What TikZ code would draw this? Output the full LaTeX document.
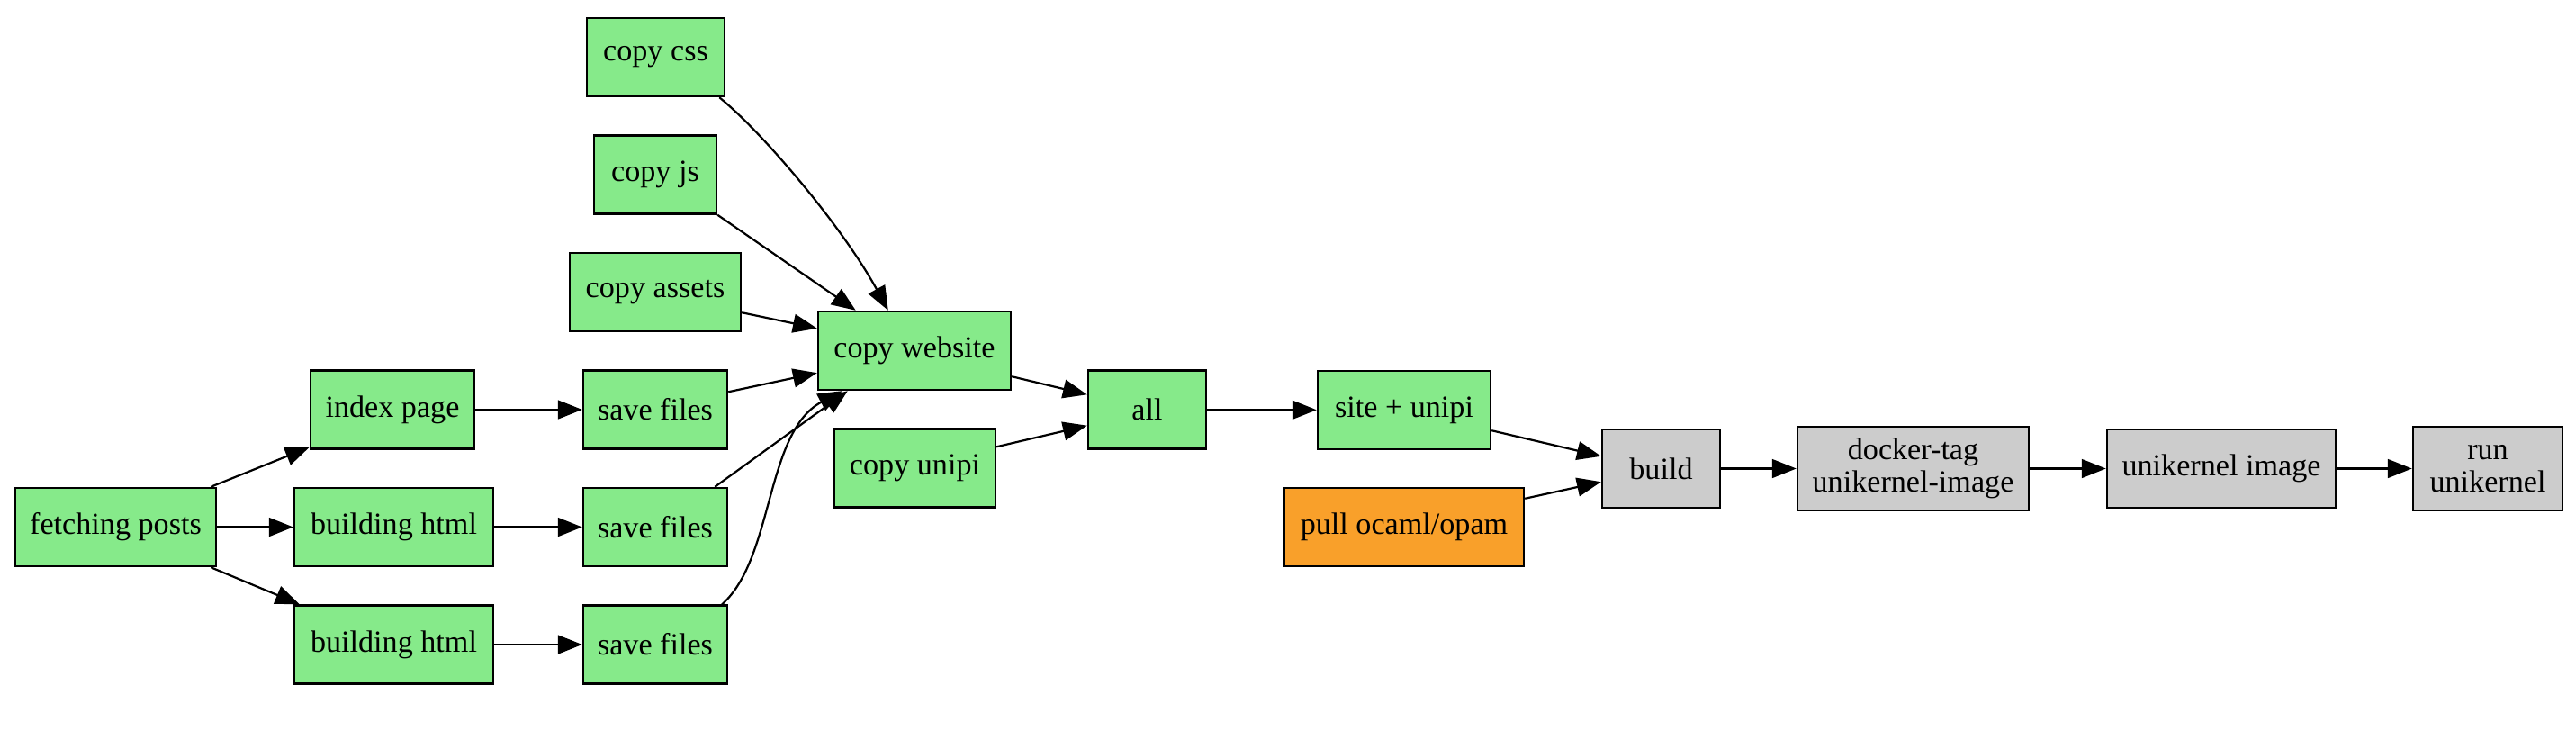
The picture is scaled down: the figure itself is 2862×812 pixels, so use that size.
\documentclass[tikz,border=0pt]{standalone}
\usepackage{fontspec}
\setmainfont{Liberation Serif}
\usetikzlibrary{arrows.meta,calc}
\definecolor{gfill}{HTML}{86EA8A}
\definecolor{ofill}{HTML}{F9A02A}
\definecolor{grfill}{HTML}{CCCCCC}
\begin{document}
\begin{tikzpicture}[x=0.41pt,y=-0.41pt,
  box/.style={draw=black, line width=1pt, rectangle, inner sep=0pt,
    minimum height=87*0.41pt, font=\fontsize{14pt}{14.5pt}\selectfont, align=center},
  bw/.style={minimum width=#1*0.41pt},
  tall/.style={minimum height=93*0.41pt},
  green/.style={fill=gfill}, orange/.style={fill=ofill}, grey/.style={fill=grfill},
  edge/.style={line width=0.9pt, -{Triangle[length=11pt,width=8.5pt]}}]
\useasboundingbox (0,0) rectangle (2862,812);

\node[box,green,bw=223] (fetch) at (128.5,585.5) {fetching posts};
\node[box,green,bw=182] (index) at (436,455) {index page};
\node[box,green,bw=221] (bh1) at (437.5,585.5) {building html};
\node[box,green,bw=221] (bh2) at (437.5,716) {building html};
\node[box,green,bw=160] (sf1) at (728,455) {save files};
\node[box,green,bw=160] (sf2) at (728,585.5) {save files};
\node[box,green,bw=160] (sf3) at (728,716) {save files};
\node[box,green,bw=153] (css) at (728.5,63.5) {copy css};
\node[box,green,bw=136] (js) at (728,194) {copy js};
\node[box,green,bw=190] (assets) at (728,324.5) {copy assets};
\node[box,green,bw=214] (cw) at (1016,389.5) {copy website};
\node[box,green,bw=179] (unipi) at (1016.5,520) {copy unipi};
\node[box,green,bw=131] (all) at (1274.5,455) {all};
\node[box,green,bw=192] (site) at (1560,455.5) {site + unipi};
\node[box,orange,bw=266] (pull) at (1560,585.5) {pull ocaml/opam};
\node[box,grey,bw=131] (build) at (1845.5,520.5) {build};
\node[box,grey,tall,bw=257] (docker) at (2125.5,520.5) {docker-tag\\unikernel-image};
\node[box,grey,bw=254] (uimg) at (2468,520.5) {unikernel image};
\node[box,grey,tall,bw=166] (run) at (2764,520.5) {run\\unikernel};

\draw[edge] ($(fetch.north east)+(-7,0)$) -- ($(index.south west)+(0,-3)$);
\draw[edge] (fetch) -- (bh1);
\draw[edge] ($(fetch.south east)+(-7,0)$) -- ($(bh2.north west)+(7,0)$);
\draw[edge] (index) -- (sf1);
\draw[edge] (bh1) -- (sf2);
\draw[edge] (bh2) -- (sf3);
\draw[edge] ($(css.south east)+(-7,0)$) .. controls (845,145) and (935,250) .. ($(cw.north west)+(79,0)$);
\draw[edge] (js.south east) -- ($(cw.north west)+(43,0)$);
\draw[edge] ($(assets.south east)+(0,-22)$) -- ($(cw.north west)+(0,20)$);
\draw[edge] ($(sf1.north east)+(0,25)$) -- ($(cw.south west)+(0,-20)$);
\draw[edge] ($(sf2.north east)+(-15,0)$) -- ($(cw.south west)+(34,0)$);
\draw[edge] ($(sf3.north east)+(-7,0)$) .. controls (860,620) and (850,480) .. ($(cw.south west)+(28,0)$);
\draw[edge] ($(cw.south east)+(0,-16)$) -- ($(all.north west)+(0,28)$);
\draw[edge] ($(unipi.north east)+(0,21)$) -- ($(all.south west)+(0,-27)$);
\draw[edge] (all) -- (site);
\draw[edge] ($(site.south east)+(0,-22)$) -- ($(build.north west)+(0,31)$);
\draw[edge] ($(pull.north east)+(0,13)$) -- ($(build.south west)+(0,-30)$);
\draw[edge] (build) -- (docker);
\draw[edge] (docker) -- (uimg);
\draw[edge] (uimg) -- (run);
\end{tikzpicture}
\end{document}
